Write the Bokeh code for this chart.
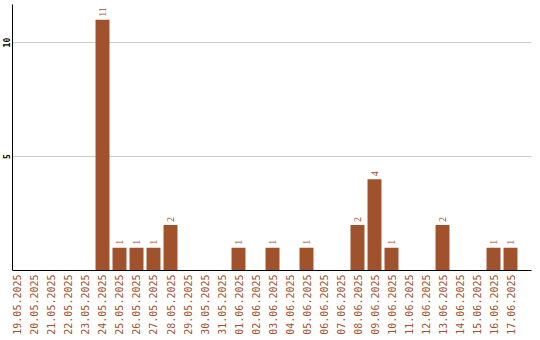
import math
from bokeh.plotting import figure
from bokeh.models import Range1d, FixedTicker, ColumnDataSource, LabelSet
from bokeh.embed import file_html
from bokeh.resources import INLINE

dates = ["19.05.2025", "20.05.2025", "21.05.2025", "22.05.2025", "23.05.2025",
         "24.05.2025", "25.05.2025", "26.05.2025", "27.05.2025", "28.05.2025",
         "29.05.2025", "30.05.2025", "31.05.2025", "01.06.2025", "02.06.2025",
         "03.06.2025", "04.06.2025", "05.06.2025", "06.06.2025", "07.06.2025",
         "08.06.2025", "09.06.2025", "10.06.2025", "11.06.2025", "12.06.2025",
         "13.06.2025", "14.06.2025", "15.06.2025", "16.06.2025", "17.06.2025"]
counts = [0, 0, 0, 0, 0, 11, 1, 1, 1, 2, 0, 0, 0, 1, 0, 1, 0, 1, 0, 0,
          2, 4, 1, 0, 0, 2, 0, 0, 1, 1]
y_ticks = [5, 10]

BAR = "#A0522D"
FONT = "DejaVu Sans Mono"

xs = list(range(len(dates)))
src = ColumnDataSource(dict(x=xs, top=counts))
lab_x = [x for x, c in zip(xs, counts) if c > 0]
lab_y = [c for c in counts if c > 0]
lab_t = [str(c) for c in counts if c > 0]
lab_src = ColumnDataSource(dict(x=lab_x, y=lab_y, t=lab_t))

p = figure(width=540, height=340, output_backend="svg", toolbar_location=None,
           x_range=Range1d(-0.294, 30.235), y_range=Range1d(0, 11.67),
           min_border_left=0, min_border_right=9, min_border_top=4,
           min_border_bottom=70)
p.outline_line_color = None
p.background_fill_color = "white"
p.border_fill_color = "white"

p.vbar(x="x", top="top", bottom=0, width=0.82, source=src,
       fill_color=BAR, line_color=None)
labels = LabelSet(x="x", y="y", text="t", source=lab_src, angle=math.pi / 2,
                  text_align="left", text_baseline="middle", y_offset=3,
                  text_color=BAR, text_font=FONT, text_font_size="10px")
p.add_layout(labels)

p.xgrid.visible = False
p.ygrid.ticker = FixedTicker(ticks=y_ticks)
p.ygrid.grid_line_color = "#cccccc"

xa = p.xaxis[0]
xa.ticker = FixedTicker(ticks=xs)
xa.major_label_overrides = {i: d for i, d in enumerate(dates)}
xa.major_label_orientation = math.pi / 2
xa.major_label_text_color = BAR
xa.major_label_text_font = FONT
xa.major_label_text_font_size = "10px"
xa.major_tick_line_color = None
xa.minor_tick_line_color = None
xa.major_tick_out = 0
xa.major_tick_in = 0
xa.major_label_standoff = 4
xa.axis_line_color = "black"

ya = p.yaxis[0]
ya.ticker = FixedTicker(ticks=y_ticks)
ya.major_label_orientation = "parallel"
ya.major_label_text_color = "black"
ya.major_label_text_font = FONT
ya.major_label_text_font_size = "8px"
ya.major_label_text_font_style = "bold"
ya.major_tick_line_color = None
ya.minor_tick_line_color = None
ya.major_tick_out = 0
ya.major_tick_in = 0
ya.major_label_standoff = 2
ya.axis_line_color = "black"

open("out.html", "w").write(file_html(p, INLINE))
